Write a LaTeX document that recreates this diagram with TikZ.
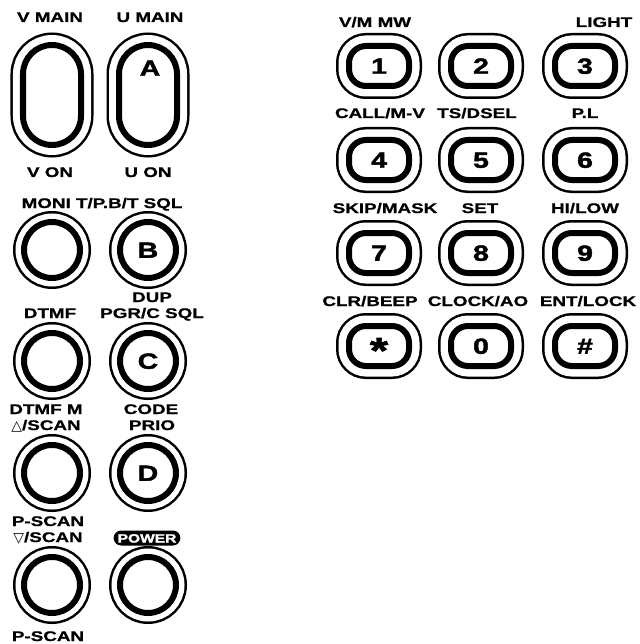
\documentclass[tikz,border=0pt]{standalone}
\usepackage{fontspec}
\setmainfont{Liberation Sans}
\newfontfamily\lblfont[FakeStretch=1.35,BoldFeatures={FakeBold=0.8}]{Liberation Sans}
\newfontfamily\keyfont[FakeStretch=1.3,BoldFeatures={FakeBold=2}]{Liberation Sans}
\newfontfamily\symfont{DejaVu Sans}

\begin{document}
\begin{tikzpicture}[x=1bp,y=-1bp,
  lbl/.style={font=\lblfont\bfseries\fontsize{14}{16}\selectfont,inner sep=0pt,anchor=base},
  keyface/.style={font=\keyfont\bfseries\fontsize{22}{22}\selectfont,text height=15.5bp,text depth=0pt},
  rbtn/.style={circle,draw,fill=white,line width=6bp,minimum size=56bp,inner sep=0pt,
    preaction={draw,line width=22bp},preaction={draw=white,line width=17bp},keyface},
  oval/.style={rectangle,rounded corners=29bp,draw,fill=white,line width=6bp,
    minimum width=58bp,minimum height=100bp,inner sep=0pt,
    preaction={draw,line width=25bp},preaction={draw=white,line width=20bp}},
  padkey/.style={rectangle,rounded corners=17bp,draw,fill=white,line width=6bp,
    minimum width=60bp,minimum height=40bp,inner sep=0pt,
    preaction={draw,line width=26bp},preaction={draw=white,line width=21bp},keyface},
  pwr/.style={fill=black,text=white,rounded corners=7.5bp,inner xsep=4bp,inner ysep=3bp,
    font=\keyfont\bfseries\fontsize{12}{12}\selectfont,text height=9bp,text depth=0pt}]
  \useasboundingbox (0,0) rectangle (640,644);

  % main dials
  \node[oval] (vdial) at (52,95) {};
  \node[oval] (udial) at (148,95) {};
  \node[keyface,inner sep=0pt] (ltrA) at (150,68) {A};
  \node[lbl] (vmain) at (50,22) {V MAIN};
  \node[lbl] (umain) at (150,22) {U MAIN};
  \node[lbl] (von) at (50,177) {V ON};
  \node[lbl] (uon) at (148,177) {U ON};

  % left column
  \node[rbtn] (moni) at (52,250) {};
  \node[rbtn] (btnB) at (148,250) {B};
  \node[rbtn] (dtmf) at (52,361) {};
  \node[rbtn] (btnC) at (148,361) {C};
  \node[rbtn] (scanup) at (52,473) {};
  \node[rbtn] (btnD) at (148,473) {D};
  \node[rbtn] (scandn) at (52,585) {};
  \node[rbtn] (pwrbtn) at (148,585) {};

  \node[lbl] (monil) at (102,208) {MONI T/P.B/T SQL};
  \node[lbl] (dtmfl) at (50,318) {DTMF};
  \node[lbl] (dupl) at (152,302) {DUP};
  \node[lbl] (pgrl) at (152,318) {PGR/C SQL};
  \node[lbl] (dtmfml) at (46,414) {DTMF M};
  \node[lbl] (upl) at (46,430) {{\symfont\fontsize{14}{14}\selectfont △}/SCAN};
  \node[lbl] (codel) at (151,414) {CODE};
  \node[lbl] (priol) at (152,430) {PRIO};
  \node[lbl] (pscanl) at (48,526) {P-SCAN};
  \node[lbl] (dnl) at (48,542) {{\symfont\fontsize{14}{14}\selectfont ▽}/SCAN};
  \node[pwr] (powerl) at (147,538) {POWER};
  \node[lbl] (pscanb) at (48,641) {P-SCAN};

  % keypad
  \node[padkey] (k1) at (379,66) {1};
  \node[padkey] (k2) at (481,66) {2};
  \node[padkey] (k3) at (585,66) {3};
  \node[padkey] (k4) at (379,160) {4};
  \node[padkey] (k5) at (481,160) {5};
  \node[padkey] (k6) at (585,160) {6};
  \node[padkey] (k7) at (379,253) {7};
  \node[padkey] (k8) at (481,253) {8};
  \node[padkey] (k9) at (585,253) {9};
  \node[padkey] (kstar) at (379,346) {\raisebox{-9bp}{\fontsize{36}{36}\selectfont *}};
  \node[padkey] (k0) at (481,346) {0};
  \node[padkey] (khash) at (585,346) {\#};

  \node[lbl] (vmmw) at (375,27) {V/M MW};
  \node[lbl] (light) at (604,27) {LIGHT};
  \node[lbl] (callmv) at (380,118) {CALL/M-V};
  \node[lbl] (tsdsel) at (477,118) {TS/DSEL};
  \node[lbl] (pl) at (585,118) {P.L};
  \node[lbl] (skip) at (385,213) {SKIP/MASK};
  \node[lbl] (set) at (480,213) {SET};
  \node[lbl] (hilow) at (585,213) {HI/LOW};
  \node[lbl] (clr) at (370,306) {CLR/BEEP};
  \node[lbl] (clock) at (478,306) {CLOCK/AO};
  \node[lbl] (ent) at (588,306) {ENT/LOCK};
\end{tikzpicture}
\end{document}
